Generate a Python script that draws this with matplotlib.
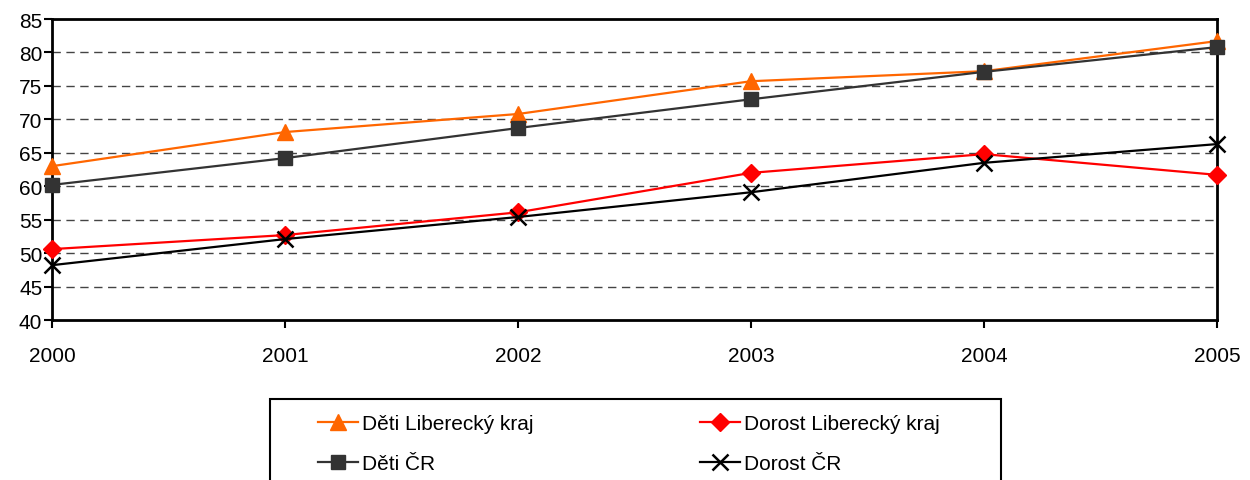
import matplotlib
matplotlib.use('Agg')
import matplotlib.pyplot as plt
from matplotlib.patches import Rectangle
import numpy as np

plt.rcParams['font.family'] = ['Liberation Sans Narrow', 'Liberation Sans', 'DejaVu Sans']

years = [2000, 2001, 2002, 2003, 2004, 2005]
deti_lk = [63.0, 68.1, 70.8, 75.7, 77.2, 81.7]
dorost_lk = [50.6, 52.7, 56.1, 62.0, 64.8, 61.7]
deti_cr = [60.2, 64.2, 68.7, 73.0, 77.1, 80.8]
dorost_cr = [48.2, 52.1, 55.4, 59.1, 63.5, 66.3]

fig = plt.figure(figsize=(12.5, 4.81), dpi=100)
ax = fig.add_axes([0.0416, 0.3326, 0.932, 0.6258])

ax.plot(years, deti_lk, color='#FF6600', lw=1.6, marker='^', ms=12, label='Děti Liberecký kraj', clip_on=False, zorder=3)
ax.plot(years, dorost_lk, color='#FF0000', lw=1.6, marker='D', ms=9.5, label='Dorost Liberecký kraj', clip_on=False, zorder=3)
ax.plot(years, deti_cr, color='#333333', lw=1.6, marker='s', ms=10, label='Děti ČR', clip_on=False, zorder=3)
ax.plot(years, dorost_cr, color='black', lw=1.6, marker='x', ms=12, mew=1.8, label='Dorost ČR', clip_on=False, zorder=3)

ax.set_xlim(2000, 2005)
ax.set_ylim(40, 85)
ax.set_yticks(range(40, 90, 5))
ax.set_xticks(years)
for y in range(45, 85, 5):
    ax.axhline(y, color='#444444', lw=1, ls=(0, (6, 4)), zorder=0)
for s in ax.spines.values():
    s.set_linewidth(2)
ax.tick_params(axis='both', labelsize=15, width=1.5, length=6)
ax.tick_params(axis='x', pad=13)
ax.tick_params(axis='y', pad=1)

# legend box (runs off the bottom edge like the reference)
fig.patches.append(Rectangle((270 / 1250, -0.05), 731 / 1250, 0.05 + 81 / 481,
                             transform=fig.transFigure, fill=False,
                             edgecolor='black', lw=1.5))

h, l = ax.get_legend_handles_labels()
order = [0, 2, 1, 3]
leg = fig.legend([h[i] for i in order], [l[i] for i in order],
                 loc='upper left', bbox_to_anchor=(318 / 1250, 1 - 415 / 481),
                 ncol=2, fontsize=15, frameon=False,
                 handlelength=1.9, handletextpad=0.2, columnspacing=8.0,
                 borderaxespad=0, labelspacing=1.0, borderpad=0)

fig.savefig('out.png', dpi=100)
